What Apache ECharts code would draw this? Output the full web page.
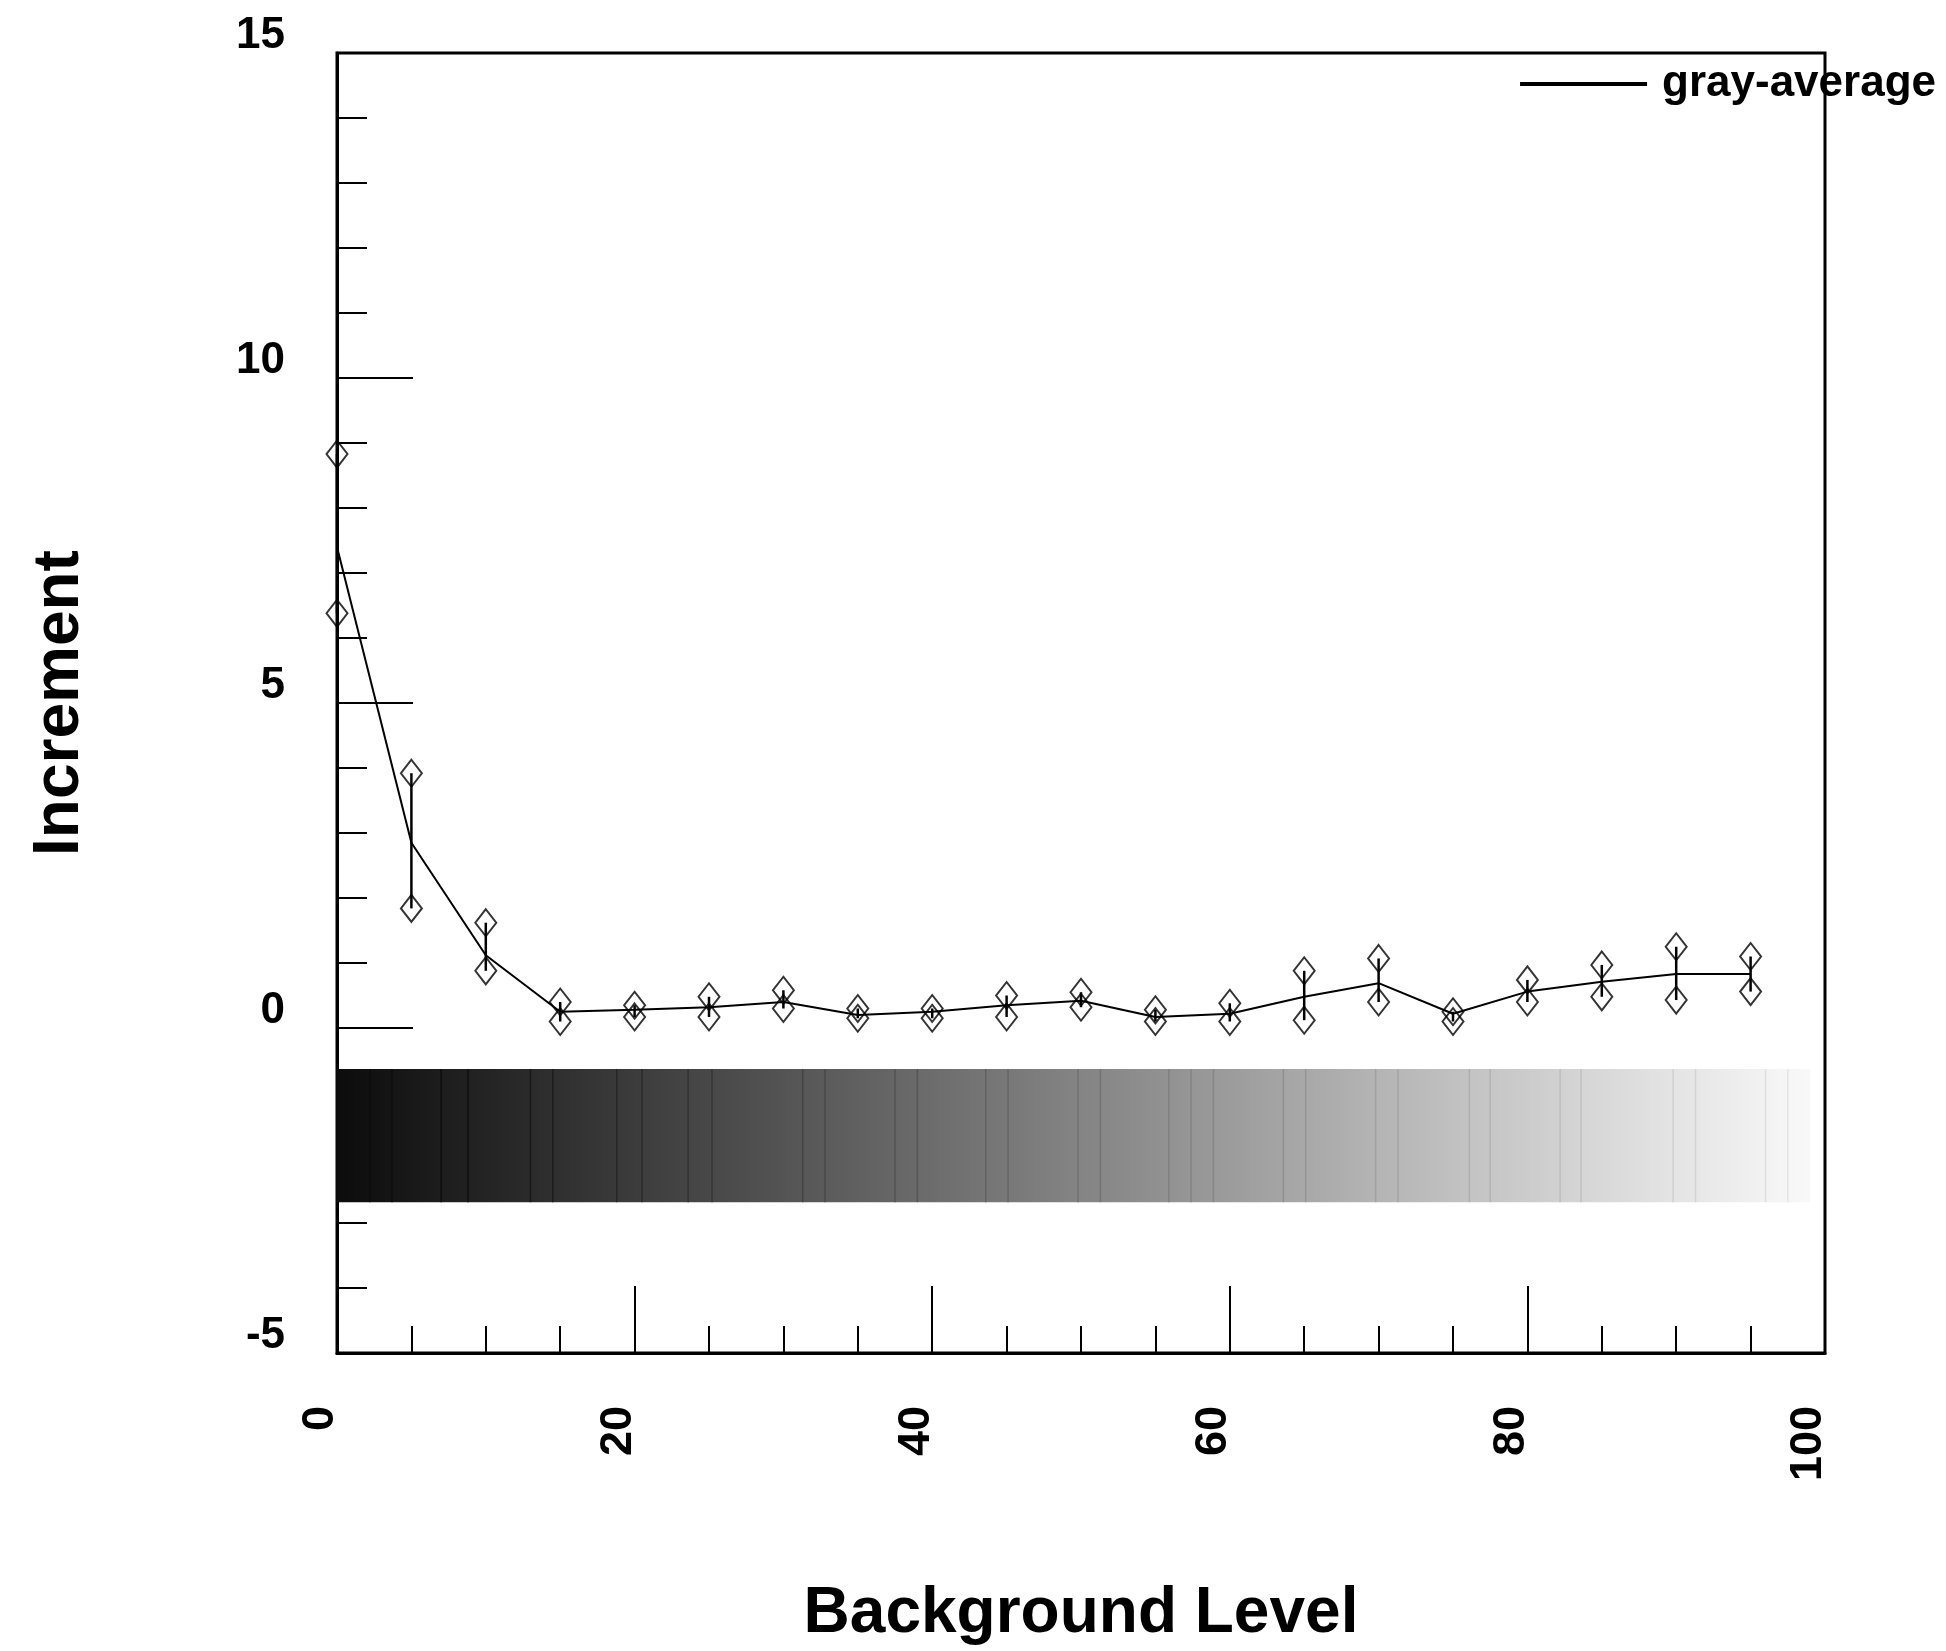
<!DOCTYPE html>
<html>
<head>
<meta charset="utf-8">
<title>gray-average</title>
<script src="https://cdn.jsdelivr.net/npm/echarts@6/dist/echarts.min.js"></script>
<style>
  html, body { margin: 0; padding: 0; background: #fff; }
  #chart { width: 1946px; height: 1651px; }
</style>
</head>
<body>
<div id="chart"></div>
<script>
// background level of each sample
var levels = [0, 5, 10, 15, 20, 25, 30, 35, 40, 45, 50, 55, 60, 65, 70, 75, 80, 85, 90, 95];
// average increment (the line)
var grayAverage = [7.4, 2.85, 1.12, 0.25, 0.28, 0.32, 0.4, 0.2, 0.25, 0.35, 0.42, 0.17, 0.22, 0.48, 0.69, 0.22, 0.56, 0.71, 0.83, 0.83];
// upper / lower measurement (diamonds + bar)
var highValues = [8.83, 3.92, 1.62, 0.4, 0.35, 0.48, 0.58, 0.3, 0.3, 0.5, 0.55, 0.28, 0.38, 0.88, 1.07, 0.25, 0.74, 0.97, 1.25, 1.1];
var lowValues = [6.38, 1.84, 0.88, 0.1, 0.17, 0.17, 0.3, 0.15, 0.15, 0.17, 0.32, 0.1, 0.1, 0.12, 0.4, 0.1, 0.4, 0.48, 0.43, 0.56];

// tick labels
var xTickLabels = [0, 20, 40, 60, 80, 100];
var yTickLabels = [-5, 0, 5, 10, 15];

// gray wedge: band boundaries along the x axis, and its vertical extent
var bandEdges = [0, 2.2, 3.7, 7.0, 8.8, 13.0, 14.5, 18.8, 20.5, 23.6, 25.2, 31.3, 32.8, 37.5, 39.0, 43.6, 45.1,
  49.8, 51.3, 55.9, 57.4, 58.9, 63.6, 65.1, 69.8, 71.3, 76.1, 77.5, 82.2, 83.6, 89.8, 91.3, 96.0, 97.5, 99.0];
var bandTop = -0.63;
var bandBottom = -2.68;

var FONT = '"Liberation Sans", Arial, Helvetica, sans-serif';

function grayAt(x) {
  var g = Math.round(Math.min(248, 12 + 2.4 * x));
  return 'rgb(' + g + ',' + g + ',' + g + ')';
}

var bands = [];
for (var i = 0; i < bandEdges.length - 1; i++) {
  bands.push([bandEdges[i], bandEdges[i + 1]]);
}

var avgData = levels.map(function (x, i) { return [x, grayAverage[i]]; });
var highData = levels.map(function (x, i) { return [x, highValues[i]]; });
var lowData = levels.map(function (x, i) { return [x, lowValues[i]]; });
var barData = levels.map(function (x, i) { return [x, lowValues[i], highValues[i]]; });

var chart = echarts.init(document.getElementById('chart'));

var option = {
  animation: false,
  backgroundColor: '#fff',
  textStyle: { fontFamily: FONT },
  grid: {
    left: 337,
    right: 121,
    top: 53,
    bottom: 298,
    show: true,
    borderColor: '#000',
    borderWidth: 3,
    backgroundColor: 'transparent'
  },
  legend: {
    data: ['gray-average'],
    orient: 'horizontal',
    right: 10,
    top: 62,
    padding: 0,
    icon: 'rect',
    itemWidth: 127,
    itemHeight: 4,
    itemStyle: { color: '#000' },
    textStyle: {
      fontFamily: FONT,
      fontSize: 44,
      fontWeight: 'bold',
      color: '#000',
      padding: [0, 0, 0, 10]
    }
  },
  xAxis: {
    type: 'value',
    min: xTickLabels[0],
    max: xTickLabels[xTickLabels.length - 1],
    interval: xTickLabels[1] - xTickLabels[0],
    name: 'Background Level',
    nameLocation: 'middle',
    nameGap: 229,
    nameTextStyle: { fontFamily: FONT, fontSize: 64, fontWeight: 'bold', color: '#000' },
    axisLine: { onZero: false, lineStyle: { color: '#000', width: 3 } },
    axisTick: { inside: true, length: 67, lineStyle: { color: '#000', width: 2 } },
    minorTick: { show: true, splitNumber: 4, length: 27, lineStyle: { color: '#000', width: 2 } },
    splitLine: { show: false },
    minorSplitLine: { show: false },
    axisLabel: {
      rotate: 90,
      margin: 53,
      fontFamily: FONT,
      fontSize: 45,
      fontWeight: 'bold',
      color: '#000',
      align: 'right',
      verticalAlign: 'bottom',
      lineHeight: 32
    }
  },
  yAxis: {
    type: 'value',
    min: yTickLabels[0],
    max: yTickLabels[yTickLabels.length - 1],
    interval: yTickLabels[1] - yTickLabels[0],
    name: 'Increment',
    nameLocation: 'middle',
    nameGap: 245,
    nameTextStyle: { fontFamily: FONT, fontSize: 64, fontWeight: 'bold', color: '#000' },
    axisLine: { show: true, onZero: false, lineStyle: { color: '#000', width: 3 } },
    axisTick: { show: true, inside: true, length: 76, lineStyle: { color: '#000', width: 2 } },
    minorTick: { show: true, splitNumber: 5, length: 30, lineStyle: { color: '#000', width: 2 } },
    splitLine: { show: false },
    minorSplitLine: { show: false },
    axisLabel: {
      margin: 52,
      fontFamily: FONT,
      fontSize: 44,
      fontWeight: 'bold',
      color: '#000',
      align: 'right',
      verticalAlign: 'bottom',
      lineHeight: 34
    }
  },
  series: [
    {
      // gray wedge
      name: 'wedge',
      type: 'custom',
      data: bands,
      encode: { x: [0, 1] },
      silent: true,
      z: 1,
      renderItem: function (params, api) {
        var x0 = api.value(0);
        var x1 = api.value(1);
        var p0 = api.coord([x0, bandTop]);
        var p1 = api.coord([x1, bandBottom]);
        return {
          type: 'group',
          children: [
            {
              type: 'rect',
              shape: { x: p0[0], y: p0[1], width: p1[0] - p0[0], height: p1[1] - p0[1] },
              style: {
                fill: new echarts.graphic.LinearGradient(0, 0, 1, 0, [
                  { offset: 0, color: grayAt(x0) },
                  { offset: 1, color: grayAt(x1) }
                ])
              }
            },
            {
              type: 'line',
              shape: { x1: p0[0], y1: p0[1], x2: p0[0], y2: p1[1] },
              style: { stroke: grayAt(Math.max(0, x0 - 8)), lineWidth: 1.5 }
            }
          ]
        };
      }
    },
    {
      // vertical bars between lower and upper measurement
      name: 'range',
      type: 'custom',
      data: barData,
      encode: { x: 0, y: [1, 2] },
      silent: true,
      z: 3,
      renderItem: function (params, api) {
        var lo = api.coord([api.value(0), api.value(1)]);
        var hi = api.coord([api.value(0), api.value(2)]);
        return {
          type: 'line',
          shape: { x1: lo[0], y1: lo[1], x2: hi[0], y2: hi[1] },
          style: { stroke: '#000', lineWidth: 2.5 }
        };
      }
    },
    {
      name: 'gray-average',
      type: 'line',
      data: avgData,
      symbol: 'none',
      lineStyle: { color: '#000', width: 2 },
      itemStyle: { color: '#000' },
      z: 4
    },
    {
      name: 'high',
      type: 'scatter',
      data: highData,
      symbol: 'diamond',
      symbolSize: [21, 27],
      itemStyle: { color: 'rgba(255,255,255,0)', borderColor: '#000', borderWidth: 2 },
      z: 5
    },
    {
      name: 'low',
      type: 'scatter',
      data: lowData,
      symbol: 'diamond',
      symbolSize: [21, 27],
      itemStyle: { color: 'rgba(255,255,255,0)', borderColor: '#000', borderWidth: 2 },
      z: 5
    }
  ]
};

chart.setOption(option);
window.addEventListener('resize', function () {
  chart.resize();
});
</script>
</body>
</html>
